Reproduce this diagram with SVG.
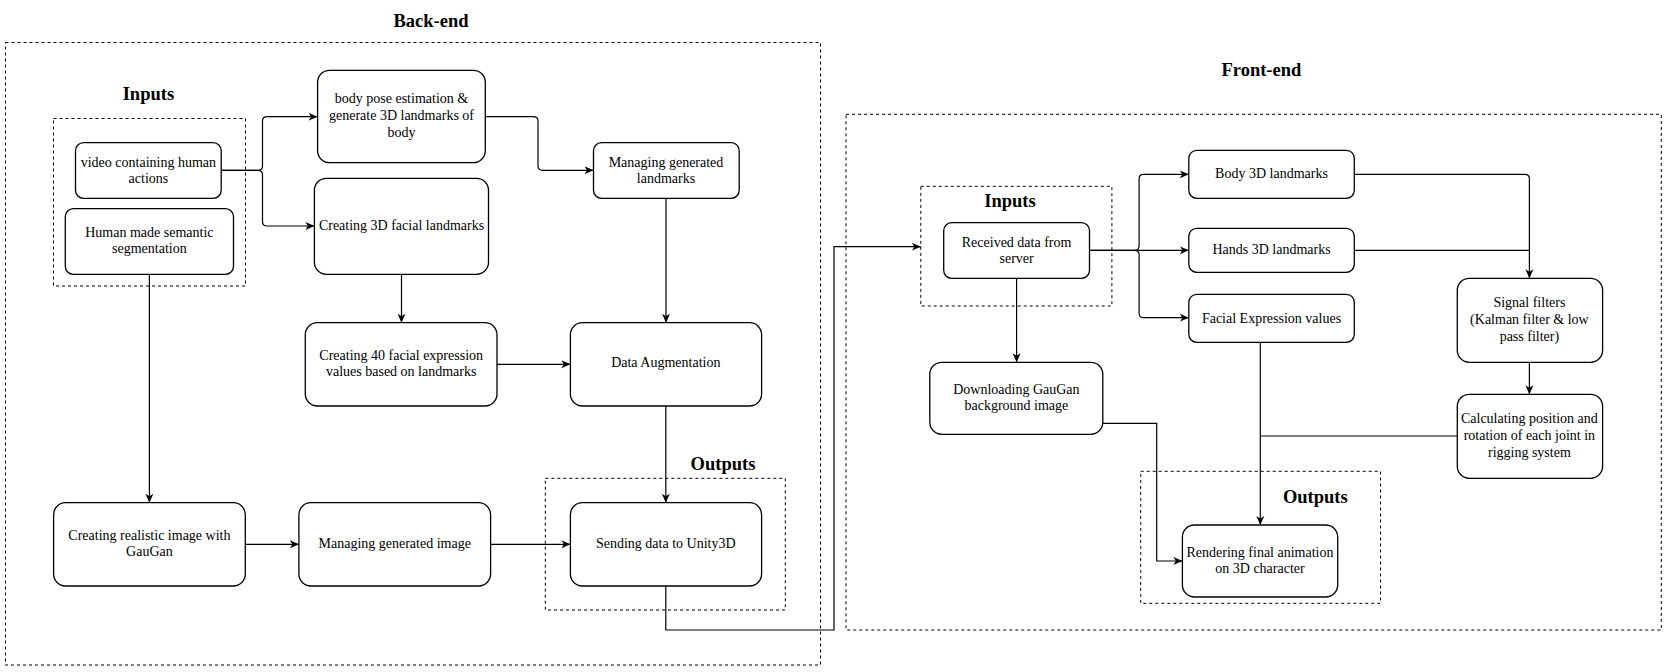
<svg xmlns="http://www.w3.org/2000/svg" width="1667" height="672" viewBox="0 0 1667 672">
<style>
.node{fill:#fff;stroke:#000;stroke-width:1.3}
.grp{fill:none;stroke:#000;stroke-width:1;stroke-dasharray:3,3}
.t{font-family:"Liberation Serif","Times New Roman",serif;font-size:14px;fill:#000;text-anchor:middle}
.h{font-family:"Liberation Serif","Times New Roman",serif;font-size:18.5px;font-weight:bold;fill:#000;text-anchor:middle}
.c{fill:none;stroke:#000;stroke-width:1.2}
</style>
<defs>
<marker id="arr" markerUnits="userSpaceOnUse" markerWidth="10" markerHeight="10" refX="9" refY="5" orient="auto">
<path d="M0,1 L9,5 L0,9 L2.5,5 z" fill="#000"/>
</marker>
</defs>
<rect width="1667" height="672" fill="#fff"/>

<g id="backend-group">
<rect class="grp" x="5.5" y="42.5" width="815" height="622.5"/>
<text class="h" x="431" y="27">Back-end</text>
</g>
<g id="backend-inputs">
<rect class="grp" x="53.5" y="118.5" width="192" height="167.5"/>
<text class="h" x="148.4" y="100">Inputs</text>
</g>
<g id="backend-outputs">
<rect class="grp" x="545.3" y="478.3" width="240" height="131.7"/>
<text class="h" x="723" y="470">Outputs</text>
</g>
<g id="frontend-group">
<rect class="grp" x="846" y="114.3" width="815.3" height="515.7"/>
<text class="h" x="1261.4" y="76">Front-end</text>
</g>
<g id="frontend-inputs">
<rect class="grp" x="920.8" y="186.3" width="191.1" height="119.7"/>
<text class="h" x="1010" y="207.3">Inputs</text>
</g>
<g id="frontend-outputs">
<rect class="grp" x="1140.7" y="471.3" width="239.8" height="132"/>
<text class="h" x="1315.3" y="503.3">Outputs</text>
</g>

<g id="connectors">
<path class="c" marker-end="url(#arr)" d="M221.2,170.3 L258,170.3 Q262.5,170.3 262.5,165.8 L262.5,121.2 Q262.5,116.7 267,116.7 L317.6,116.7"/>
<path class="c" marker-end="url(#arr)" d="M221.2,170.3 L258,170.3 Q262.5,170.3 262.5,174.8 L262.5,221.5 Q262.5,226 267,226 L314.4,226"/>
<path class="c" marker-end="url(#arr)" d="M485.3,116.7 L533.5,116.7 Q538,116.7 538,121.2 L538,165.8 Q538,170.3 542.5,170.3 L593.5,170.3"/>
<path class="c" marker-end="url(#arr)" d="M666,198.3 L666,322.7"/>
<path class="c" marker-end="url(#arr)" d="M401.5,274.3 L401.5,322.7"/>
<path class="c" marker-end="url(#arr)" d="M497,364.3 L570.4,364.3"/>
<path class="c" marker-end="url(#arr)" d="M149.4,274.3 L149.4,502.7"/>
<path class="c" marker-end="url(#arr)" d="M245.3,544.3 L298.9,544.3"/>
<path class="c" marker-end="url(#arr)" d="M490.6,544.3 L570.4,544.3"/>
<path class="c" marker-end="url(#arr)" d="M665.8,406 L665.8,502.7"/>
<path class="c" marker-end="url(#arr)" d="M665.8,586 L665.8,630 L834,630 L834,246.7 L920.8,246.7"/>
<path class="c" marker-end="url(#arr)" d="M1089.5,250.3 L1134.6,250.3 Q1139.1,250.3 1139.1,245.8 L1139.1,178.8 Q1139.1,174.3 1143.6,174.3 L1188.8,174.3"/>
<path class="c" marker-end="url(#arr)" d="M1089.5,250.3 L1188.8,250.3"/>
<path class="c" marker-end="url(#arr)" d="M1134.6,250.3 Q1139.1,250.3 1139.1,254.8 L1139.1,313.2 Q1139.1,317.7 1143.6,317.7 L1188.8,317.7"/>
<path class="c" marker-end="url(#arr)" d="M1354.3,174.3 L1524.9,174.3 Q1529.4,174.3 1529.4,178.8 L1529.4,278.3"/>
<path class="c" d="M1354.3,250.3 L1529.4,250.3"/>
<path class="c" marker-end="url(#arr)" d="M1529.4,362.3 L1529.4,394.3"/>
<path class="c" d="M1457.3,436 L1260.3,436"/>
<path class="c" marker-end="url(#arr)" d="M1260.3,342.3 L1260.3,525"/>
<path class="c" marker-end="url(#arr)" d="M1016.6,278.3 L1016.6,362.3"/>
<path class="c" marker-end="url(#arr)" d="M1102.8,423.3 L1156.7,423.3 L1156.7,561 L1182.4,561"/>
</g>

<g id="n-video">
<rect class="node" x="75.5" y="142.7" width="145.7" height="55.6" rx="8"/>
<text class="t" x="148.4" y="166.7">video containing human</text>
<text class="t" x="148.4" y="182.7">actions</text>
</g>
<g id="n-semantic">
<rect class="node" x="65.3" y="208.7" width="168.2" height="65.6" rx="8"/>
<text class="t" x="149.4" y="236.7">Human made semantic</text>
<text class="t" x="149.4" y="252.7">segmentation</text>
</g>
<g id="n-bodypose">
<rect class="node" x="317.6" y="70.3" width="167.7" height="92.4" rx="12"/>
<text class="t" x="401.5" y="102.7">body pose estimation &amp;</text>
<text class="t" x="401.5" y="119.7">generate 3D landmarks of</text>
<text class="t" x="401.5" y="136.7">body</text>
</g>
<g id="n-facial3d">
<rect class="node" x="314.4" y="178.3" width="174.1" height="96" rx="12"/>
<text class="t" x="401.5" y="230">Creating 3D facial landmarks</text>
</g>
<g id="n-managelm">
<rect class="node" x="593.5" y="142.7" width="145.7" height="55.6" rx="8"/>
<text class="t" x="666" y="166.7">Managing generated</text>
<text class="t" x="666" y="182.7">landmarks</text>
</g>
<g id="n-facial40">
<rect class="node" x="305.3" y="322.7" width="191.7" height="83.3" rx="12"/>
<text class="t" x="401.2" y="360">Creating 40 facial expression</text>
<text class="t" x="401.2" y="376">values based on landmarks</text>
</g>
<g id="n-dataaug">
<rect class="node" x="570.4" y="322.7" width="191.2" height="83.3" rx="12"/>
<text class="t" x="665.8" y="367.3">Data Augmentation</text>
</g>
<g id="n-gaugan">
<rect class="node" x="53.6" y="502.7" width="191.7" height="83.3" rx="12"/>
<text class="t" x="149.4" y="540">Creating realistic image with</text>
<text class="t" x="149.4" y="556">GauGan</text>
</g>
<g id="n-manageimg">
<rect class="node" x="298.9" y="502.7" width="191.7" height="83.3" rx="12"/>
<text class="t" x="394.7" y="548.3">Managing generated image</text>
</g>
<g id="n-sending">
<rect class="node" x="570.4" y="502.7" width="191.2" height="83.3" rx="12"/>
<text class="t" x="665.8" y="548.3">Sending data to Unity3D</text>
</g>

<g id="n-received">
<rect class="node" x="943.7" y="222.7" width="145.8" height="55.6" rx="8"/>
<text class="t" x="1016.6" y="246.7">Received data from</text>
<text class="t" x="1016.6" y="262.7">server</text>
</g>
<g id="n-body3d">
<rect class="node" x="1188.8" y="150.3" width="165.5" height="48" rx="8"/>
<text class="t" x="1271.5" y="178.3">Body 3D landmarks</text>
</g>
<g id="n-hands3d">
<rect class="node" x="1188.8" y="228.3" width="165.5" height="44" rx="8"/>
<text class="t" x="1271.5" y="254">Hands 3D landmarks</text>
</g>
<g id="n-facialexp">
<rect class="node" x="1188.8" y="294.3" width="165.5" height="48" rx="8"/>
<text class="t" x="1271.5" y="322.7">Facial Expression values</text>
</g>
<g id="n-signal">
<rect class="node" x="1457.3" y="278.3" width="145.3" height="84" rx="12"/>
<text class="t" x="1529.4" y="307.3">Signal filters</text>
<text class="t" x="1529.4" y="324">(Kalman filter &amp; low</text>
<text class="t" x="1529.4" y="340.7">pass filter)</text>
</g>
<g id="n-calc">
<rect class="node" x="1457.3" y="394.3" width="145.3" height="84" rx="12"/>
<text class="t" x="1529.4" y="423.3">Calculating position and</text>
<text class="t" x="1529.4" y="440">rotation of each joint in</text>
<text class="t" x="1529.4" y="456.7">rigging system</text>
</g>
<g id="n-download">
<rect class="node" x="929.8" y="362.3" width="173" height="72" rx="12"/>
<text class="t" x="1016.4" y="394.3">Downloading GauGan</text>
<text class="t" x="1016.4" y="410.3">background image</text>
</g>
<g id="n-render">
<rect class="node" x="1182.4" y="525" width="155.3" height="72" rx="12"/>
<text class="t" x="1260" y="557.3">Rendering final animation</text>
<text class="t" x="1260" y="573.3">on 3D character</text>
</g>
</svg>
